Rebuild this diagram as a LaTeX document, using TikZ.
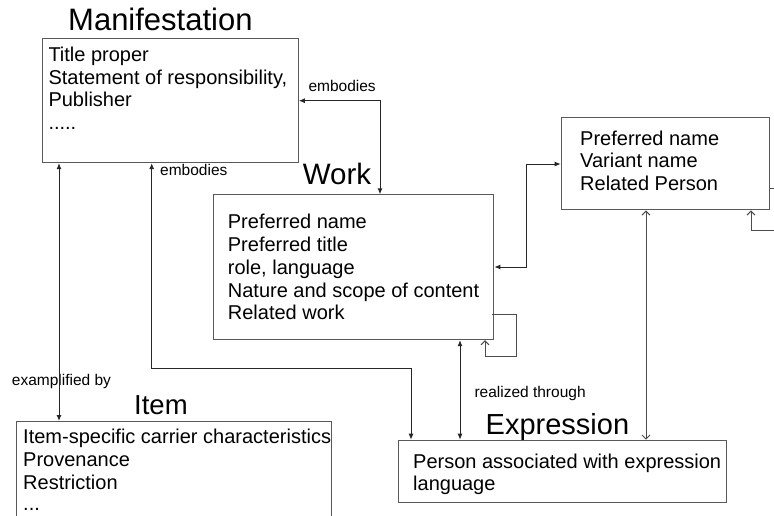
\documentclass[tikz,border=0pt]{standalone}
\usepackage{fontspec}
\setmainfont{Liberation Sans}
\usetikzlibrary{arrows.meta}
\tikzset{
  box/.style={draw=black!65, line width=1.1pt, inner sep=0pt, anchor=north west},
  txt/.style={anchor=base west, inner sep=0pt, font=\fontsize{20}{22}\selectfont},
  ttl/.style={anchor=base west, inner sep=0pt},
  lbl/.style={anchor=base west, inner sep=0pt, font=\fontsize{15.5}{17}\selectfont},
  conn/.style={draw=black!85, line width=1pt},
  bi/.style={conn, {Latex[length=6pt,width=5pt]}-{Latex[length=6pt,width=5pt]}},
  obi/.style={conn, draw=black!70, {Straight Barb[length=4pt,width=8pt]}-{Straight Barb[length=4pt,width=8pt]}},
  oto/.style={conn, draw=black!70, -{Straight Barb[length=4pt,width=8pt]}},
}
\begin{document}
\begin{tikzpicture}[x=1pt,y=-1pt]
\useasboundingbox (0,0) rectangle (774,515);
\clip (0,0) rectangle (774,515);
\fill[white] (0,0) rectangle (774,515);
% boxes
\node[box, minimum width=255.4pt, minimum height=123.7pt] (man) at (42.3,38.3) {};
\node[box, minimum width=280pt, minimum height=144.7pt] (work) at (213.3,194.3) {};
\node[box, minimum width=208.6pt, minimum height=92.6pt] (person) at (560.7,116.7) {};
\node[box, minimum width=327.4pt, minimum height=62.3pt] (expr) at (398.3,439.7) {};
\node[box, minimum width=315pt, minimum height=120pt] (item) at (15.7,421) {};
% titles
\node[ttl, font=\fontsize{31}{34}\selectfont] (manT) at (68,30) {Manifestation};
\node[ttl, font=\fontsize{29.5}{32}\selectfont] (workT) at (302.7,184) {Work};
\node[ttl, font=\fontsize{29}{32}\selectfont] (exprT) at (485.5,434) {Expression};
\node[ttl, font=\fontsize{27.5}{30}\selectfont] (itemT) at (134,414) {Item};
% texts
\node[txt] (mt1) at (48.3,61.7) {Title proper};
\node[txt] (mt2) at (48.3,84.2) {Statement of responsibility,};
\node[txt] (mt3) at (48.3,106.7) {Publisher};
\node[txt] (mt4) at (48.3,129.2) {.....};
\node[txt] (wt1) at (227.7,228.3) {Preferred name};
\node[txt] (wt2) at (227.7,251.2) {Preferred title};
\node[txt] (wt3) at (227.7,274.1) {role, language};
\node[txt] (wt4) at (227.7,297.0) {Nature and scope of content};
\node[txt] (wt5) at (227.7,319.9) {Related work};
\node[txt] (pt1) at (580,145) {Preferred name};
\node[txt] (pt2) at (580,167.5) {Variant name};
\node[txt] (pt3) at (580,190) {Related Person};
\node[txt] (et1) at (413,468.3) {Person associated with expression};
\node[txt] (et2) at (413,490.8) {language};
\node[txt] (it1) at (23,443) {Item-specific carrier characteristics};
\node[txt] (it2) at (23,466.2) {Provenance};
\node[txt] (it3) at (23,489.4) {Restriction};
\node[txt] (it4) at (23,510.5) {...};
% labels
\node[lbl] (l1) at (308.3,91.7) {embodies};
\node[lbl] (l2) at (160,175) {embodies};
\node[lbl] (l3) at (11.7,385) {examplified by};
\node[lbl] (l4) at (474.3,397) {realized through};
% connectors
\draw[bi] (work.north -| 380,0) |- (man.east);
\draw[bi] (man.south -| 151.7,0) |- (411,368.3) -- (expr.north -| 411,0);
\draw[bi] (man.south -| 59,0) -- (item.north -| 59,0);
\draw[bi] (work.south -| 460,0) -- (expr.north -| 460,0);
\draw[bi] (work.east |- 0,267) -| (526.7,164) -- (person.west |- 0,164);
\draw[oto] (491.8,314.3) -- (516.7,314.3) -- (516.7,356) -- (485,356) -- (work.south -| 485,0);
\draw[obi] (person.south -| 646,0) -- (expr.north -| 646,0);
\draw[oto] (person.east |- 0,188) -- (790,188) -- (790,230) -- (751,230) -- (person.south -| 751,0);
\end{tikzpicture}
\end{document}
